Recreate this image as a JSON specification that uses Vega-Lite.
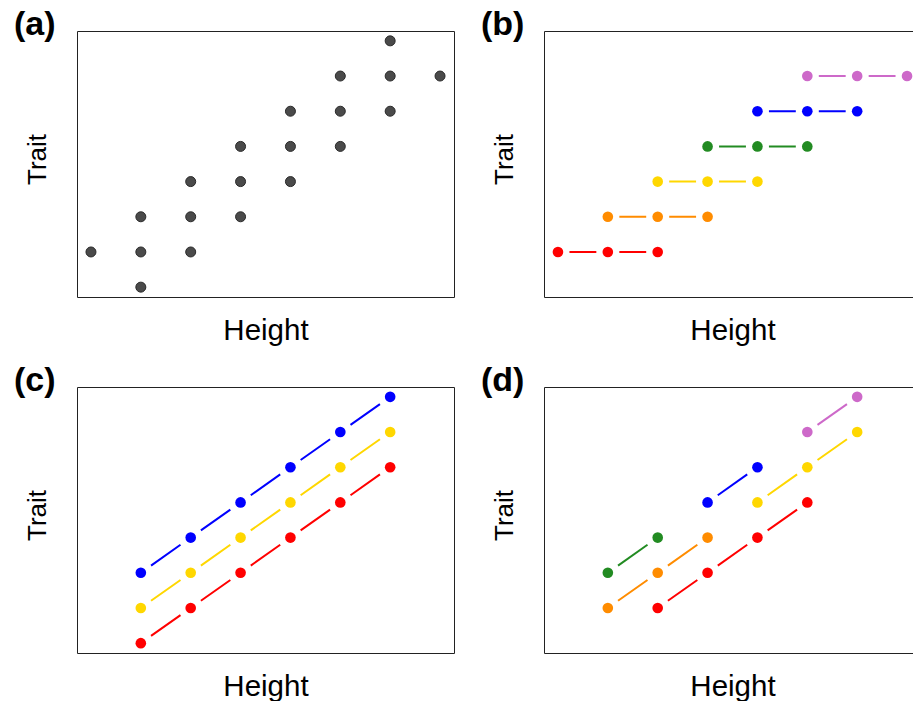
{
  "$schema": "https://vega.github.io/schema/vega-lite/v6.json",
  "background": "white",
  "padding": {"left": 13, "top": 7, "right": 0, "bottom": 0},
  "columns": 2,
  "spacing": {"row": 18, "column": 25},
  "config": {
    "font": "Liberation Sans",
    "view": {"stroke": "#222222", "strokeWidth": 1},
    "axis": {"grid": false, "ticks": false, "labels": false, "domain": false, "titleFontWeight": "normal", "titleColor": "black", "titleFont": "Liberation Sans"},
    "axisX": {"titleX": 188.5, "titleY": 42, "titleBaseline": "alphabetic", "titleFontSize": 29.5},
    "axisY": {"titleX": -32, "titleY": 128, "titleBaseline": "alphabetic", "titleAngle": 270, "titleFontSize": 26},
    "title": {"anchor": "start", "frame": "group", "fontSize": 34, "fontWeight": "bold", "color": "black", "font": "Liberation Sans", "dx": -63, "baseline": "alphabetic", "offset": -11}
  },
  "datasets": {
    "a": [
      {"x": 0, "y": 1}, {"x": 1, "y": 0}, {"x": 1, "y": 1}, {"x": 1, "y": 2},
      {"x": 2, "y": 1}, {"x": 2, "y": 2}, {"x": 2, "y": 3},
      {"x": 3, "y": 2}, {"x": 3, "y": 3}, {"x": 3, "y": 4},
      {"x": 4, "y": 3}, {"x": 4, "y": 4}, {"x": 4, "y": 5},
      {"x": 5, "y": 4}, {"x": 5, "y": 5}, {"x": 5, "y": 6},
      {"x": 6, "y": 5}, {"x": 6, "y": 6}, {"x": 6, "y": 7},
      {"x": 7, "y": 6}
    ],
    "b": [
      {"s": "red", "x": 0, "y": 1}, {"s": "red", "x": 1, "y": 1}, {"s": "red", "x": 2, "y": 1},
      {"s": "orange", "x": 1, "y": 2}, {"s": "orange", "x": 2, "y": 2}, {"s": "orange", "x": 3, "y": 2},
      {"s": "yellow", "x": 2, "y": 3}, {"s": "yellow", "x": 3, "y": 3}, {"s": "yellow", "x": 4, "y": 3},
      {"s": "green", "x": 3, "y": 4}, {"s": "green", "x": 4, "y": 4}, {"s": "green", "x": 5, "y": 4},
      {"s": "blue", "x": 4, "y": 5}, {"s": "blue", "x": 5, "y": 5}, {"s": "blue", "x": 6, "y": 5},
      {"s": "purple", "x": 5, "y": 6}, {"s": "purple", "x": 6, "y": 6}, {"s": "purple", "x": 7, "y": 6}
    ],
    "c": [
      {"s": "red", "x": 1, "y": 0}, {"s": "red", "x": 2, "y": 1}, {"s": "red", "x": 3, "y": 2},
      {"s": "red", "x": 4, "y": 3}, {"s": "red", "x": 5, "y": 4}, {"s": "red", "x": 6, "y": 5},
      {"s": "yellow", "x": 1, "y": 1}, {"s": "yellow", "x": 2, "y": 2}, {"s": "yellow", "x": 3, "y": 3},
      {"s": "yellow", "x": 4, "y": 4}, {"s": "yellow", "x": 5, "y": 5}, {"s": "yellow", "x": 6, "y": 6},
      {"s": "blue", "x": 1, "y": 2}, {"s": "blue", "x": 2, "y": 3}, {"s": "blue", "x": 3, "y": 4},
      {"s": "blue", "x": 4, "y": 5}, {"s": "blue", "x": 5, "y": 6}, {"s": "blue", "x": 6, "y": 7}
    ],
    "d": [
      {"s": "red", "x": 2, "y": 1}, {"s": "red", "x": 3, "y": 2}, {"s": "red", "x": 4, "y": 3}, {"s": "red", "x": 5, "y": 4},
      {"s": "orange", "x": 1, "y": 1}, {"s": "orange", "x": 2, "y": 2}, {"s": "orange", "x": 3, "y": 3},
      {"s": "green", "x": 1, "y": 2}, {"s": "green", "x": 2, "y": 3},
      {"s": "yellow", "x": 4, "y": 4}, {"s": "yellow", "x": 5, "y": 5}, {"s": "yellow", "x": 6, "y": 6},
      {"s": "blue", "x": 3, "y": 4}, {"s": "blue", "x": 4, "y": 5},
      {"s": "purple", "x": 5, "y": 6}, {"s": "purple", "x": 6, "y": 7}
    ]
  },
  "concat": [
    {
      "width": 377, "height": 266,
      "title": {"text": "(a)"},
      "data": {"name": "a"},
      "mark": {"type": "point", "filled": true, "size": 100, "fill": "#4a4a4a", "stroke": "#2a2a2a", "strokeWidth": 1, "opacity": 1},
      "encoding": {
        "x": {"field": "x", "type": "quantitative", "scale": {"domain": [-0.28, 7.28], "nice": false, "zero": false}, "axis": {"title": "Height"}},
        "y": {"field": "y", "type": "quantitative", "scale": {"domain": [-0.28, 7.28], "nice": false, "zero": false}, "axis": {"title": "Trait"}}
      }
    },
    {
      "width": 377, "height": 266,
      "title": {"text": "(b)"},
      "data": {"name": "b"},
      "encoding": {
        "x": {"field": "x", "type": "quantitative", "scale": {"domain": [-0.28, 7.28], "nice": false, "zero": false}, "axis": {"title": "Height"}},
        "y": {"field": "y", "type": "quantitative", "scale": {"domain": [-0.28, 7.28], "nice": false, "zero": false}, "axis": {"title": "Trait"}},
        "color": {"field": "s", "type": "nominal", "legend": null,
          "scale": {"domain": ["red", "orange", "yellow", "green", "blue", "purple"], "range": ["#FF0000", "#FF8C00", "#FFD700", "#228B22", "#0000FF", "#CD69C9"]}},
        "detail": {"field": "s"}
      },
      "layer": [
        {"mark": {"type": "line", "strokeWidth": 2, "strokeDash": [26.87, 23], "strokeDashOffset": 38.37}, "encoding": {}},
        {"mark": {"type": "point", "filled": true, "size": 113, "opacity": 1}, "encoding": {}}
      ]
    },
    {
      "width": 377, "height": 266,
      "title": {"text": "(c)"},
      "data": {"name": "c"},
      "encoding": {
        "x": {"field": "x", "type": "quantitative", "scale": {"domain": [-0.28, 7.28], "nice": false, "zero": false}, "axis": {"title": "Height"}},
        "y": {"field": "y", "type": "quantitative", "scale": {"domain": [-0.28, 7.28], "nice": false, "zero": false}, "axis": {"title": "Trait"}},
        "color": {"field": "s", "type": "nominal", "legend": null,
          "scale": {"domain": ["red", "orange", "yellow", "green", "blue", "purple"], "range": ["#FF0000", "#FF8C00", "#FFD700", "#228B22", "#0000FF", "#CD69C9"]}},
        "detail": {"field": "s"}
      },
      "layer": [
        {"mark": {"type": "line", "strokeWidth": 2, "strokeDash": [36.03, 25], "strokeDashOffset": 48.53}, "encoding": {}},
        {"mark": {"type": "point", "filled": true, "size": 113, "opacity": 1}, "encoding": {}}
      ]
    },
    {
      "width": 377, "height": 266,
      "title": {"text": "(d)"},
      "data": {"name": "d"},
      "encoding": {
        "x": {"field": "x", "type": "quantitative", "scale": {"domain": [-0.28, 7.28], "nice": false, "zero": false}, "axis": {"title": "Height"}},
        "y": {"field": "y", "type": "quantitative", "scale": {"domain": [-0.28, 7.28], "nice": false, "zero": false}, "axis": {"title": "Trait"}},
        "color": {"field": "s", "type": "nominal", "legend": null,
          "scale": {"domain": ["red", "orange", "yellow", "green", "blue", "purple"], "range": ["#FF0000", "#FF8C00", "#FFD700", "#228B22", "#0000FF", "#CD69C9"]}},
        "detail": {"field": "s"}
      },
      "layer": [
        {"mark": {"type": "line", "strokeWidth": 2, "strokeDash": [36.03, 25], "strokeDashOffset": 48.53}, "encoding": {}},
        {"mark": {"type": "point", "filled": true, "size": 113, "opacity": 1}, "encoding": {}}
      ]
    }
  ]
}
